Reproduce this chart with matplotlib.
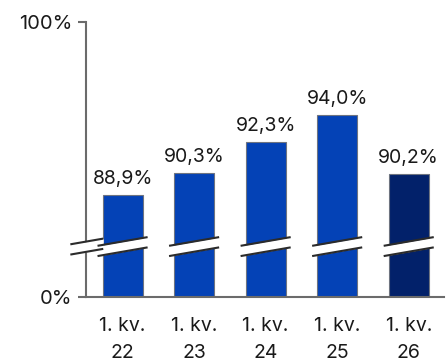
import matplotlib.pyplot as plt
import numpy as np

plt.rcParams['font.family'] = ['Inter', 'DejaVu Sans']

labels = ['1. kv.\n22', '1. kv.\n23', '1. kv.\n24', '1. kv.\n25', '1. kv.\n26']
values = [88.9, 90.3, 92.3, 94.0, 90.2]
colors = ['#0442b6', '#0442b6', '#0442b6', '#0442b6', '#02216a']

# y-axis is cut: bottom of the axis stands for 0 %
y_low, y_high = 82.3, 100
brk = 85.55      # middle of the cut band
gap = 0.33       # half height of the band
slope = 0.8      # rise of the cut per x unit

fig = plt.figure(figsize=(4.46, 3.61), dpi=100)
ax = fig.add_axes([0.193, 0.177, 0.802, 0.762])

x = np.arange(len(values))
ax.bar(x, np.array(values) - y_low, bottom=y_low, width=0.56, color=colors,
       edgecolor='#6e7480', linewidth=0.8, zorder=2)

for i, v in enumerate(values):
    ax.text(i, v + 0.45, f'{v:.1f}%'.replace('.', ','), ha='center', va='bottom',
            fontsize=14, color='#1a1a1a')

def cut(x0, x1):
    xs = np.array([x0, x1])
    mid = brk + slope * (xs - (x0 + x1) / 2)
    ax.fill_between(xs, mid - gap, mid + gap, color='white', zorder=3, clip_on=False, lw=0)
    ax.plot(xs, mid + gap, color='#2b2b2b', lw=1.5, zorder=4, clip_on=False, solid_capstyle='butt')
    ax.plot(xs, mid - gap, color='#2b2b2b', lw=1.5, zorder=4, clip_on=False, solid_capstyle='butt')

for i in x:
    cut(i - 0.35, i + 0.35)
cut(-0.73, -0.27)

ax.set_xlim(-0.51, 4.49)
ax.set_ylim(y_low, y_high)
ax.set_xticks(x)
ax.set_xticklabels(labels, fontsize=14, color='#1a1a1a', linespacing=1.7)
ax.set_yticks([y_low, y_high])
ax.set_yticklabels(['0%', '100%'], fontsize=14.5, color='#1a1a1a')
ax.tick_params(axis='x', length=0, pad=14)
ax.tick_params(axis='y', length=6, width=1.5, color='#6b6b6b', pad=4)

for s in ['top', 'right']:
    ax.spines[s].set_visible(False)
for s in ['left', 'bottom']:
    ax.spines[s].set_color('#6b6b6b')
    ax.spines[s].set_linewidth(1.5)

plt.savefig('out.png', dpi=100)
